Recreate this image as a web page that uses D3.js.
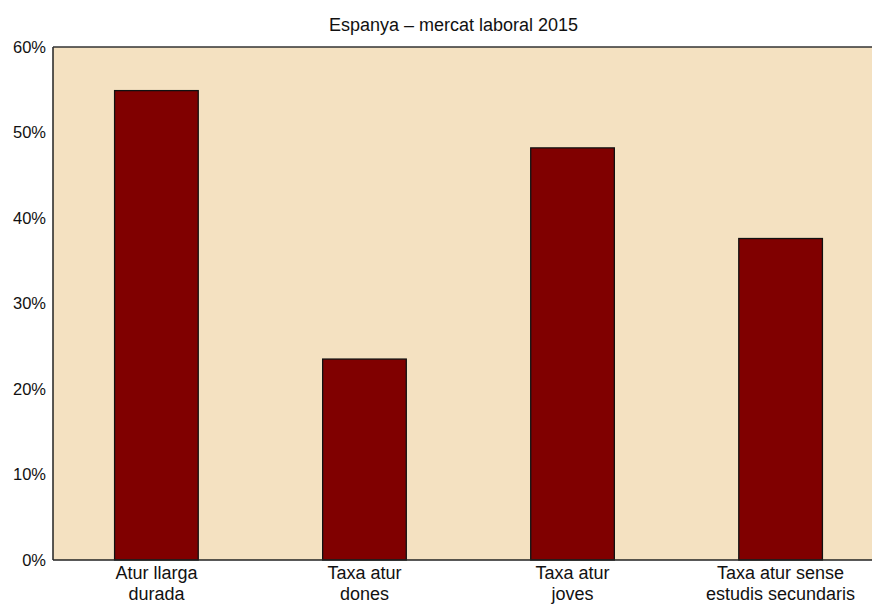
<!DOCTYPE html>
<html><head><meta charset="utf-8">
<script src="https://cdn.jsdelivr.net/npm/d3@7"></script>
<style>body{margin:0;background:#fff;} svg{display:block;font-family:"Liberation Sans",Arial,sans-serif;}</style>
</head><body>
<svg id="c" width="872" height="604"></svg>
<script>
const categories = [["Atur llarga","durada"],["Taxa atur","dones"],["Taxa atur","joves"],["Taxa atur sense","estudis secundaris"]];
const values = [54.9, 23.5, 48.2, 37.6];
const yTicks = [0,10,20,30,40,50,60];
const title = "Espanya \u2013 mercat laboral 2015";

(function(){
const svg = d3.select("#c");
const mL = 53, mT = 47, mB = 560, mR = 884;
const x = d3.scaleBand().domain(d3.range(categories.length)).range([mL, mR]).paddingInner(0.598).paddingOuter(0.296);
const y = d3.scaleLinear().domain([0,60]).range([mB, mT]);

svg.append("rect").attr("x", mL).attr("y", mT).attr("width", mR-mL).attr("height", mB-mT).attr("fill", "#F4E1C1");

svg.selectAll(".bar").data(values).enter().append("rect")
  .attr("x", (d,i)=>x(i)).attr("y", d=>y(d)).attr("width", x.bandwidth()).attr("height", d=>mB-y(d))
  .attr("fill", "#800000").attr("stroke", "#111").attr("stroke-width", 1.3);

const yAxis = svg.append("g").attr("transform", `translate(${mL},0)`)
  .call(d3.axisLeft(y).tickValues(yTicks).tickFormat(d=>d+"%").tickSize(0).tickPadding(7));
yAxis.select(".domain").remove();
yAxis.selectAll("text").attr("font-size", 16.5).attr("fill", "#111").attr("font-family", "Liberation Sans, Arial, sans-serif");

svg.append("line").attr("x1", mL).attr("x2", mL).attr("y1", mT).attr("y2", mB).attr("stroke", "#222").attr("stroke-width", 1.5);
svg.append("line").attr("x1", mL).attr("x2", mR).attr("y1", mB).attr("y2", mB).attr("stroke", "#222").attr("stroke-width", 1.5);
svg.append("line").attr("x1", mL).attr("x2", mR).attr("y1", mT).attr("y2", mT).attr("stroke", "#333").attr("stroke-width", 1.5);

const xl = svg.append("g");
categories.forEach((lines,i)=>{
  const cx = x(i)+x.bandwidth()/2;
  const t = xl.append("text").attr("x", cx).attr("y", 579).attr("text-anchor","middle")
    .attr("font-size", 18).attr("fill", "#111");
  lines.forEach((l,j)=>t.append("tspan").attr("x", cx).attr("dy", j===0?0:21).text(l));
});

svg.append("text").attr("x", 453.5).attr("y", 31).attr("text-anchor","middle").attr("font-size", 18).attr("fill","#111").text(title);
})();
</script>
</body></html>
